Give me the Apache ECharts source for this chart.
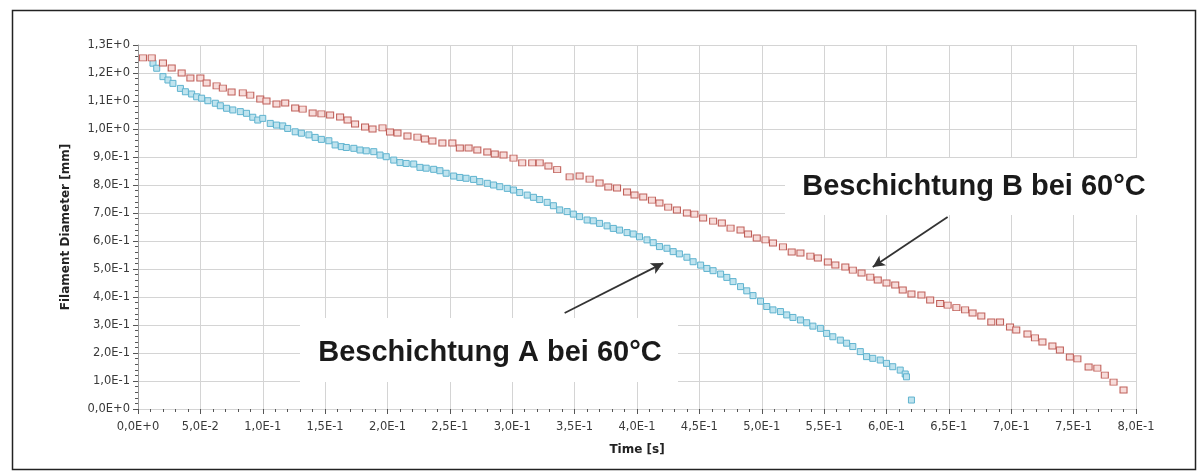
<!DOCTYPE html>
<html>
<head>
<meta charset="utf-8">
<script src="https://cdn.jsdelivr.net/npm/echarts@6/dist/echarts.min.js"></script>
<style>
html,body{margin:0;padding:0;background:#fff;}
#chart{width:1198px;height:472px;}
</style>
</head>
<body>
<div id="chart"></div>
<script>
// ---- data ----
var xTitle = 'Time [s]';
var yTitle = 'Filament Diameter [mm]';
var labelA = 'Beschichtung A bei 60°C';
var labelB = 'Beschichtung B bei 60°C';

var timeB = [0.004,0.011,0.020,0.027,0.035,0.042,0.050,0.055,0.063,0.068,0.075,0.084,0.090,0.098,0.103,0.111,0.118,0.126,0.132,0.140,0.147,0.154,0.162,0.168,0.174,0.182,0.188,0.196,0.202,0.208,0.216,0.224,0.230,0.236,0.244,0.252,0.258,0.265,0.272,0.280,0.286,0.293,0.301,0.308,0.316,0.322,0.329,0.336,0.346,0.354,0.362,0.370,0.377,0.384,0.392,0.398,0.405,0.412,0.418,0.425,0.432,0.440,0.446,0.453,0.461,0.468,0.475,0.483,0.489,0.496,0.503,0.509,0.517,0.524,0.531,0.539,0.545,0.553,0.559,0.567,0.573,0.580,0.587,0.593,0.600,0.607,0.613,0.620,0.628,0.635,0.643,0.649,0.656,0.663,0.669,0.676,0.684,0.691,0.699,0.704,0.713,0.719,0.725,0.733,0.739,0.747,0.753,0.762,0.769,0.775,0.782,0.790];
var diamB = [1.254,1.254,1.236,1.218,1.200,1.182,1.182,1.164,1.154,1.146,1.132,1.129,1.121,1.107,1.100,1.089,1.093,1.075,1.071,1.057,1.054,1.050,1.043,1.032,1.018,1.007,1.000,1.004,0.989,0.986,0.975,0.971,0.964,0.957,0.950,0.950,0.932,0.932,0.925,0.918,0.911,0.907,0.896,0.879,0.879,0.879,0.868,0.855,0.829,0.832,0.821,0.807,0.793,0.789,0.775,0.764,0.757,0.746,0.736,0.721,0.711,0.700,0.696,0.682,0.671,0.664,0.646,0.639,0.625,0.611,0.604,0.593,0.579,0.561,0.557,0.546,0.539,0.525,0.514,0.507,0.496,0.486,0.471,0.461,0.450,0.443,0.425,0.411,0.407,0.389,0.377,0.371,0.362,0.354,0.343,0.332,0.311,0.311,0.293,0.282,0.268,0.254,0.239,0.225,0.211,0.186,0.179,0.150,0.146,0.121,0.096,0.068];

var timeA = [0.012,0.015,0.020,0.024,0.028,0.034,0.038,0.043,0.047,0.051,0.056,0.062,0.066,0.071,0.076,0.082,0.087,0.092,0.096,0.100,0.106,0.111,0.116,0.120,0.126,0.131,0.137,0.142,0.147,0.153,0.158,0.163,0.167,0.173,0.178,0.183,0.189,0.194,0.199,0.205,0.210,0.215,0.221,0.226,0.231,0.237,0.242,0.247,0.253,0.258,0.263,0.269,0.274,0.280,0.285,0.290,0.296,0.301,0.306,0.312,0.317,0.322,0.328,0.333,0.338,0.344,0.349,0.354,0.360,0.365,0.370,0.376,0.381,0.386,0.392,0.397,0.402,0.408,0.413,0.418,0.424,0.429,0.434,0.440,0.445,0.451,0.456,0.461,0.467,0.472,0.477,0.483,0.488,0.493,0.499,0.504,0.509,0.515,0.520,0.525,0.531,0.536,0.541,0.547,0.552,0.557,0.563,0.568,0.573,0.579,0.584,0.589,0.595,0.600,0.605,0.611,0.615,0.616,0.620];
var diamA = [1.235,1.217,1.187,1.175,1.163,1.145,1.133,1.125,1.115,1.110,1.101,1.092,1.083,1.074,1.068,1.062,1.056,1.042,1.032,1.038,1.020,1.014,1.011,1.002,0.990,0.985,0.979,0.970,0.963,0.958,0.943,0.937,0.934,0.931,0.925,0.922,0.919,0.907,0.901,0.889,0.880,0.877,0.875,0.863,0.860,0.856,0.851,0.842,0.832,0.827,0.824,0.820,0.812,0.806,0.800,0.794,0.788,0.782,0.773,0.764,0.756,0.748,0.738,0.726,0.711,0.705,0.696,0.687,0.675,0.672,0.663,0.654,0.645,0.639,0.630,0.625,0.615,0.604,0.594,0.580,0.574,0.562,0.554,0.542,0.526,0.514,0.502,0.494,0.482,0.470,0.455,0.437,0.422,0.405,0.385,0.366,0.354,0.348,0.336,0.327,0.318,0.308,0.296,0.288,0.270,0.258,0.246,0.235,0.223,0.205,0.187,0.181,0.175,0.163,0.151,0.139,0.125,0.115,0.032];

// arrow endpoints in data coordinates [time, diameter]
var arrowA = [[0.342, 0.343], [0.421, 0.521]];
var arrowB = [[0.649, 0.686], [0.589, 0.507]];

function zip(xs, ys){ var r=[]; for (var i=0;i<xs.length;i++) r.push([xs[i], ys[i]]); return r; }

function sci(v){
  if (Math.abs(v) < 1e-12) return '0,0E+0';
  var e = Math.floor(Math.log10(Math.abs(v)) + 1e-9);
  var m = v / Math.pow(10, e);
  var s = m.toFixed(1);
  if (s === '10.0') { e += 1; s = (v/Math.pow(10,e)).toFixed(1); }
  return s.replace('.', ',') + 'E' + (e >= 0 ? '+' : '-') + Math.abs(e);
}

var chart = echarts.init(document.getElementById('chart'), null, {renderer:'canvas'});
var tickFont = {fontFamily:'DejaVu Sans', fontSize:11.5, color:'#3a3a3a'};

var option = {
  backgroundColor:'#fff',
  animation:false,
  grid:{left:138, right:62, top:45, bottom:63, containLabel:false},
  xAxis:{
    type:'value', min:0, max:0.8, interval:0.05,
    name:xTitle, nameLocation:'middle', nameGap:32,
    nameTextStyle:{fontFamily:'DejaVu Sans', fontSize:12, fontWeight:'bold', color:'#222'},
    axisLine:{show:false},
    axisTick:{show:true, length:5, lineStyle:{color:'#555'}},
    minorTick:{show:true, splitNumber:5, length:3, lineStyle:{color:'#555'}},
    axisLabel:Object.assign({formatter:sci, margin:9}, tickFont),
    splitLine:{show:true, lineStyle:{color:'#d4d4d4', width:1}},
    offset:3
  },
  yAxis:{
    type:'value', min:0, max:1.3, interval:0.1,
    name:yTitle, nameLocation:'middle', nameGap:66, nameRotate:90,
    nameTextStyle:{fontFamily:'DejaVu Sans', fontSize:12, fontWeight:'bold', color:'#222'},
    axisLine:{show:true, lineStyle:{color:'#9a9a9a'}},
    axisTick:{show:true, length:5, lineStyle:{color:'#555'}},
    minorTick:{show:true, splitNumber:5, length:3, lineStyle:{color:'#555'}},
    axisLabel:Object.assign({formatter:sci, margin:8}, tickFont),
    splitLine:{show:true, lineStyle:{color:'#d4d4d4', width:1}}
  },
  series:[
    {
      name:labelA, type:'scatter', symbol:'rect', symbolSize:[6,6],
      data:zip(timeA, diamA),
      itemStyle:{color:'#bfe3ee', borderColor:'#5fb3cf', borderWidth:1, opacity:1},
      z:3
    },
    {
      name:labelB, type:'scatter', symbol:'rect', symbolSize:[7,6],
      data:zip(timeB, diamB),
      itemStyle:{color:'#f7dcda', borderColor:'#c0605a', borderWidth:1, opacity:1},
      z:4,
      markLine:{
        silent:true, animation:false,
        symbol:['none','arrow'], symbolSize:[9,12],
        label:{show:false},
        lineStyle:{color:'#333', width:1.8, type:'solid'},
        data:[
          [{coord:arrowA[0]}, {coord:arrowA[1]}],
          [{coord:arrowB[0]}, {coord:arrowB[1]}]
        ]
      }
    }
  ],
  graphic:[
    {type:'rect', left:10, top:8, shape:{width:1183, height:459}, style:{fill:'none', stroke:'#222', lineWidth:1.5}, z:1, silent:true},
    {type:'rect', shape:{x:300, y:318, width:378, height:64}, style:{fill:'#fff'}, z:10, silent:true},
    {type:'text', x:490, y:353, style:{text:labelA, fill:'#1a1a1a', font:'bold 29px "Liberation Sans", Arial, sans-serif', textAlign:'center', textVerticalAlign:'middle'}, z:11, silent:true},
    {type:'rect', shape:{x:785, y:158, width:380, height:57}, style:{fill:'#fff'}, z:10, silent:true},
    {type:'text', x:974, y:187, style:{text:labelB, fill:'#1a1a1a', font:'bold 29px "Liberation Sans", Arial, sans-serif', textAlign:'center', textVerticalAlign:'middle'}, z:11, silent:true}
  ]
};
chart.setOption(option);
</script>
</body>
</html>
